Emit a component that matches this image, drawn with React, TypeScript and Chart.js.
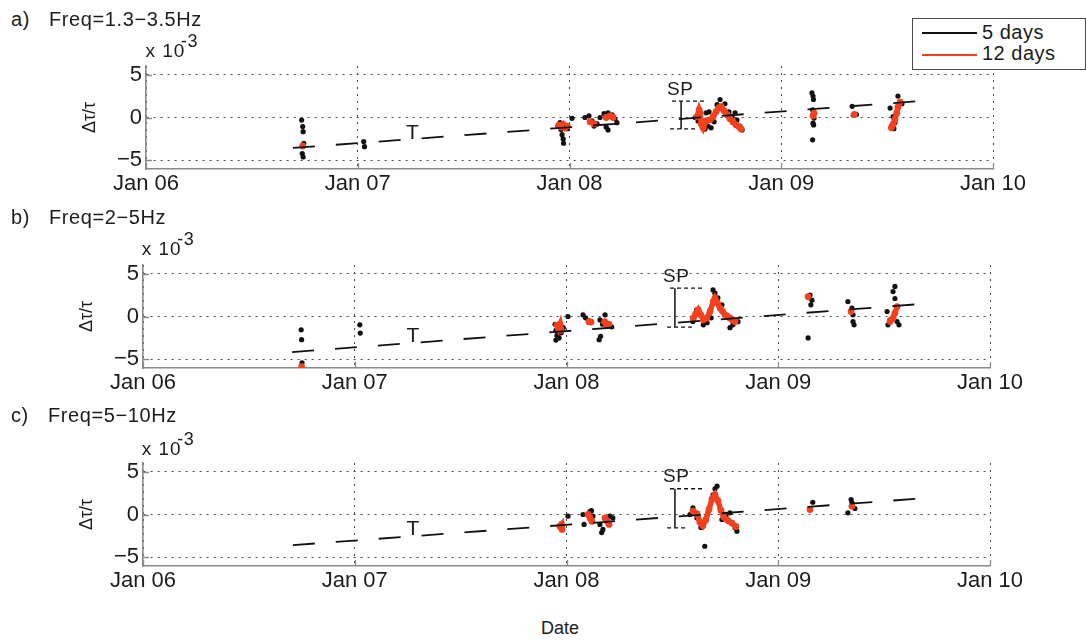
import React, { useEffect, useRef } from 'react';
import { Chart, registerables } from 'chart.js';

Chart.register(...registerables);

// ---------------- data (x in decimal years, y in units of 1e-3) ----------------
const X_TICKS = [2006, 2007, 2008, 2009, 2010];
const X_LABELS = ['Jan 06', 'Jan 07', 'Jan 08', 'Jan 09', 'Jan 10'];
const Y_TICKS = [-5, 0, 5];
const Y_LABELS = ['−5', '0', '5'];

const LEGEND_LABELS = ['5 days', '12 days'];
const PANEL_LETTERS = ['a)', 'b)', 'c)'];
const PANEL_TITLES = ['Freq=1.3−3.5Hz', 'Freq=2−5Hz', 'Freq=5−10Hz'];

// panel a
const A_BLACK_X = [
  2006.735, 2006.74, 2006.742, 2006.745, 2006.74, 2006.738, 2006.742, 2007.028, 2007.032,
  2007.945, 2007.955, 2007.96, 2007.965, 2007.97, 2007.972, 2007.98, 2007.99, 2008.012,
  2008.073, 2008.092, 2008.106, 2008.116, 2008.13, 2008.144, 2008.163, 2008.182, 2008.201, 2008.215, 2008.224, 2008.173, 2008.182,
  2008.593, 2008.607, 2008.626, 2008.64, 2008.654, 2008.669, 2008.683, 2008.697, 2008.711, 2008.72, 2008.734, 2008.753, 2008.768, 2008.782, 2008.791, 2008.805, 2008.815, 2008.645, 2008.659,
  2009.145, 2009.15, 2009.152, 2009.148, 2009.15, 2009.155, 2009.15, 2009.153, 2009.148,
  2009.335, 2009.34, 2009.355,
  2009.514, 2009.528, 2009.537, 2009.551, 2009.561, 2009.57, 2009.52, 2009.532,
];
const A_BLACK_Y = [
  -0.3, -1.05, -1.65, -3.0, -3.4, -4.2, -4.6, -2.8, -3.4,
  -1.0, -0.6, -1.4, -2.0, -2.5, -3.0, -0.9, -1.3, -0.1,
  0.0, 0.2, -0.4, -1.0, -0.75, 0.0, 0.45, 0.55, 0.3, -0.15, -0.6, -1.1, -1.45,
  0.0, -0.4, -1.0, -1.35, -1.0, -1.2, -0.5, 1.5, 2.1, 1.0, 1.6, 0.65, 0.1, 0.55, -0.3, -1.0, -1.45, 0.55, 0.65,
  2.87, 2.5, 2.1, 0.9, 0.3, -0.07, -0.66, -0.86, -2.6,
  1.3, 0.3, 0.35,
  1.1, 0.1, -0.6, 2.5, 1.7, 1.6, -1.0, -1.3,
];
const A_RED_X = [
  2006.74, null,
  2007.95, 2007.96, 2007.97, 2007.98, 2007.99, null,
  2008.097, 2008.116, null,
  2008.173, 2008.192, 2008.206, null,
  2008.602, 2008.612, 2008.617, 2008.622, 2008.631, 2008.645, 2008.664, 2008.678, 2008.692, 2008.706, 2008.716, 2008.73, 2008.744, 2008.758, 2008.772, 2008.787, 2008.801, 2008.81, null,
  2009.15, 2009.155, null,
  2009.345, null,
  2009.52, 2009.528, 2009.537, 2009.545, 2009.551, 2009.561,
];
const A_RED_Y = [
  -3.3, null,
  -0.9, -1.1, -0.8, -1.2, -1.0, null,
  -0.5, -0.75, null,
  0.0, 0.2, 0.0, null,
  0.08, 0.9, 0.55, -0.74, -1.21, -0.39, -0.27, 0.08, 0.67, 1.14, 1.26, 0.79, 0.32, -0.15, -0.51, -0.86, -1.09, -1.33, null,
  0.2, 0.5, null,
  0.35, null,
  -1.2, -0.8, -0.2, 0.5, 1.2, 1.8,
];
const A_TREND_X = [2006.694, 2009.7];
const A_TREND_Y = [-3.55, 2.0];
// SP bracket: [vertical x, top start, top end, bottom start, bottom end]
const A_SP_X = [2008.527, 2008.484, 2008.65, 2008.475, 2008.593];
const A_SP_Y = [1.9, -1.33];

// panel b
const B_BLACK_X = [
  2006.747, 2006.749, 2006.751, 2007.024, 2007.026,
  2007.946, 2007.95, 2007.955, 2007.95, 2007.965, 2007.975, 2007.985, 2008.007,
  2008.078, 2008.09, 2008.106, 2008.158, 2008.182, 2008.161, 2008.154, 2008.196, 2008.213, 2008.17,
  2008.597, 2008.615, 2008.63, 2008.646, 2008.664, 2008.683, 2008.692, 2008.701, 2008.715, 2008.734, 2008.758, 2008.772, 2008.786, 2008.81,
  2009.141, 2009.15, 2009.159, 2009.154, 2009.329, 2009.348, 2009.353, 2009.353, 2009.358,
  2009.551, 2009.542, 2009.551, 2009.514, 2009.528, 2009.518, 2009.561, 2009.57,
];
const B_BLACK_Y = [
  -1.55, -2.7, -5.4, -0.97, -1.93,
  -0.9, -1.6, -2.2, -2.75, -2.5, -1.9, -1.3, 0.0,
  0.2, -0.15, -0.5, -0.4, 0.2, -2.3, -2.7, -1.0, -1.2, -0.9,
  -0.58, 0.78, 0.2, -0.97, -0.73, -0.15, 3.1, 2.72, 2.17, 1.36, 0.0, -1.3, -0.97, -0.6,
  -2.5, 2.5, 1.9, 1.36, 1.74, 0.98, 0.2, -0.58, -0.97,
  3.5, 2.9, 2.1, 0.58, -0.38, -0.97, -0.58, -0.97,
];
const B_RED_X = [
  2006.749, null,
  2007.955, 2007.962, 2007.97, 2007.975, null,
  2008.106, 2008.116, null,
  2008.18, 2008.19, 2008.2, null,
  2008.599, 2008.61, 2008.622, 2008.634, 2008.646, 2008.662, 2008.678, 2008.693, 2008.701, 2008.712, 2008.725, 2008.737, 2008.749, 2008.76, 2008.772, 2008.784, 2008.796, null,
  2009.141, null,
  2009.344, null,
  2009.528, 2009.542, 2009.551, 2009.561,
];
const B_RED_Y = [
  -5.85, null,
  -1.0, -1.4, -0.9, -1.6, null,
  -0.6, -0.65, null,
  -0.6, -1.0, -0.9, null,
  -0.19, 0.3, 0.78, 0.2, -0.38, -0.19, 0.58, 1.74, 2.14, 1.6, 0.98, 0.6, 0.2, 0.0, -0.19, -0.4, -0.58, null,
  2.3, null,
  0.58, null,
  -0.58, -0.2, 0.4, 1.16,
];
const B_TREND_X = [2006.704, 2009.713];
const B_TREND_Y = [-4.15, 1.53];
const B_SP_X = [2008.512, 2008.489, 2008.645, 2008.475, 2008.593];
const B_SP_Y = [3.3, -1.23];

// panel c
const C_BLACK_X = [
  2008.007,
  2008.078, 2008.111, 2008.118, 2008.125, 2008.083,
  2008.158, 2008.166, 2008.172, 2008.205, 2008.219,
  2008.583, 2008.597, 2008.616, 2008.635, 2008.658, 2008.653, 2008.692, 2008.701, 2008.711, 2008.734, 2008.753, 2008.772, 2008.796, 2008.805,
  2009.163, 2009.344, 2009.348, 2009.329, 2009.362,
];
const C_BLACK_Y = [
  -0.2,
  0.0, 0.38, 0.45, -0.2, -1.16,
  -1.16, -2.1, -1.74, -0.2, -0.4,
  0.0, 0.78, -0.4, -1.5, -0.58, -3.7, 2.3, 3.0, 3.3, -0.58, -0.2, 0.2, -1.55, -1.94,
  1.43, 1.74, 1.4, 0.2, 0.7,
];
const C_RED_X = [
  2007.969, 2007.977, 2007.979, null,
  2008.102, 2008.111, 2008.12, null,
  2008.182, 2008.192, 2008.201, null,
  2008.597, 2008.616, 2008.63, 2008.644, 2008.658, 2008.673, 2008.687, 2008.701, 2008.715, 2008.729, 2008.743, 2008.762, 2008.781, 2008.8, null,
  2009.15, null,
  2009.348,
];
const C_RED_Y = [
  -1.4, -1.16, -1.74, null,
  0.0, -0.4, -0.8, null,
  -0.4, -0.8, -1.16, null,
  0.4, 0.1, -0.9, -1.3, -0.6, 0.6, 1.8, 2.3, 1.6, 0.5, -0.3, -0.7, -1.0, -1.4, null,
  0.58, null,
  0.97,
];
const C_TREND_X = [2006.708, 2009.717];
const C_TREND_Y = [-3.57, 1.95];
const C_SP_X = [2008.512, 2008.489, 2008.64, 2008.475, 2008.574];
const C_SP_Y = [3.0, -1.55];

const PANELS = [
  { blackX: A_BLACK_X, blackY: A_BLACK_Y, redX: A_RED_X, redY: A_RED_Y, trendX: A_TREND_X, trendY: A_TREND_Y, spX: A_SP_X, spY: A_SP_Y },
  { blackX: B_BLACK_X, blackY: B_BLACK_Y, redX: B_RED_X, redY: B_RED_Y, trendX: B_TREND_X, trendY: B_TREND_Y, spX: B_SP_X, spY: B_SP_Y },
  { blackX: C_BLACK_X, blackY: C_BLACK_Y, redX: C_RED_X, redY: C_RED_Y, trendX: C_TREND_X, trendY: C_TREND_Y, spX: C_SP_X, spY: C_SP_Y },
];

// ---------------- layout / style ----------------
const W = 1086;
const H = 644;
const FONT = '"Liberation Sans", Arial, Helvetica, sans-serif';
const TEXT = '#1c1c1c';
const RED = '#f4401f';
const AXIS_COLOR = '#8a8a8a';
const GRID_COLOR = '#4a4a4a';
const Y_AXIS_W = 70;
const X_AXIS_H = 30;
const PAD_TOP = 20;
const PAD_BOTTOM = 10;

const BOXES = [
  { left: 146, right: 993, top: 66, bottom: 169 },
  { left: 143, right: 990, top: 265, bottom: 368 },
  { left: 143, right: 990, top: 463, bottom: 566 },
];

type P = { x: number; y: number };

function pts(xs: number[], ys: number[]): P[] {
  return xs.map((x, i) => ({ x, y: ys[i] }));
}

function segments(xs: (number | null)[], ys: (number | null)[]): P[][] {
  const out: P[][] = [];
  let cur: P[] = [];
  xs.forEach((x, i) => {
    const y = ys[i];
    if (x === null || y === null) {
      if (cur.length) out.push(cur);
      cur = [];
    } else cur.push({ x, y });
  });
  if (cur.length) out.push(cur);
  return out;
}

const inwardTicks = {
  id: 'inwardTicks',
  afterDraw(chart: any) {
    const { ctx, chartArea, scales } = chart;
    ctx.save();
    ctx.strokeStyle = AXIS_COLOR;
    ctx.lineWidth = 1.3;
    ctx.beginPath();
    scales.x.ticks.forEach((t: any) => {
      const px = Math.round(scales.x.getPixelForValue(t.value)) + 0.5;
      ctx.moveTo(px, chartArea.bottom);
      ctx.lineTo(px, chartArea.bottom - 6);
    });
    scales.y.ticks.forEach((t: any) => {
      const py = Math.round(scales.y.getPixelForValue(t.value)) + 0.5;
      ctx.moveTo(chartArea.left, py);
      ctx.lineTo(chartArea.left + 6, py);
    });
    ctx.stroke();
    ctx.restore();
  },
};

function PanelChart({ index }: { index: number }) {
  const ref = useRef<HTMLCanvasElement>(null);
  const box = BOXES[index];
  const ch = box.bottom - box.top + PAD_TOP + PAD_BOTTOM + X_AXIS_H;

  useEffect(() => {
    const p = PANELS[index];
    const [vx, ts, te, bs, be] = p.spX;
    const [spTop, spBot] = p.spY;
    const lineDs = (data: P[], extra: any) => ({
      data,
      showLine: true,
      pointRadius: 0,
      borderColor: '#111',
      backgroundColor: '#111',
      fill: false,
      tension: 0,
      ...extra,
    });
    const redSegs = segments(p.redX, p.redY).map((seg, i) => ({
      label: i === 0 ? LEGEND_LABELS[1] : '',
      data: seg,
      showLine: true,
      borderColor: RED,
      backgroundColor: RED,
      borderWidth: 5.5,
      pointRadius: 3.4,
      pointBorderWidth: 0,
      tension: 0,
      order: 2,
    }));
    const datasets: any[] = [
      {
        label: LEGEND_LABELS[0],
        data: pts(p.blackX, p.blackY),
        showLine: false,
        backgroundColor: '#111',
        borderColor: '#111',
        pointRadius: 2.6,
        pointBorderWidth: 0,
        order: 3,
      },
      ...redSegs,
      lineDs(pts(p.trendX, p.trendY), { borderWidth: 1.8, borderDash: [22, 21], order: 0 }),
      lineDs([{ x: vx, y: spTop }, { x: vx, y: spBot }], { borderWidth: 1.5, order: 0 }),
      lineDs([{ x: ts, y: spTop }, { x: te, y: spTop }], { borderWidth: 1.3, borderDash: [4, 3], order: 0 }),
      lineDs([{ x: bs, y: spBot }, { x: be, y: spBot }], { borderWidth: 1.3, borderDash: [4, 3], order: 0 }),
    ];

    const chart = new Chart(ref.current as HTMLCanvasElement, {
      type: 'scatter',
      data: { datasets },
      plugins: [inwardTicks],
      options: {
        responsive: false,
        animation: false,
        events: [],
        layout: {
          padding: { left: box.left - Y_AXIS_W, right: W - box.right, top: PAD_TOP, bottom: PAD_BOTTOM },
        },
        plugins: { legend: { display: false }, tooltip: { enabled: false }, title: { display: false } },
        scales: {
          x: {
            type: 'linear',
            min: X_TICKS[0],
            max: X_TICKS[X_TICKS.length - 1],
            afterBuildTicks: (s: any) => {
              s.ticks = X_TICKS.map((v) => ({ value: v }));
            },
            afterFit: (s: any) => {
              s.height = X_AXIS_H;
            },
            ticks: {
              callback: (_v: any, i: number) => X_LABELS[i],
              font: { family: FONT, size: 22 },
              color: TEXT,
              padding: 2,
              maxRotation: 0,
              autoSkip: false,
            },
            grid: { color: GRID_COLOR, lineWidth: 1, drawTicks: false },
            border: { display: true, color: AXIS_COLOR, width: 1.6, dash: [2, 5] },
          },
          y: {
            type: 'linear',
            min: -6,
            max: 6,
            afterBuildTicks: (s: any) => {
              s.ticks = Y_TICKS.map((v) => ({ value: v }));
            },
            afterFit: (s: any) => {
              s.width = Y_AXIS_W;
            },
            ticks: {
              callback: (_v: any, i: number) => Y_LABELS[i],
              font: { family: FONT, size: 22 },
              color: TEXT,
              padding: 4,
            },
            title: {
              display: true,
              text: 'Δτ/τ',
              font: { family: FONT, size: 18 },
              color: TEXT,
              padding: { top: 3, bottom: 0 },
            },
            grid: { color: GRID_COLOR, lineWidth: 1, drawTicks: false },
            border: { display: true, color: AXIS_COLOR, width: 1.6, dash: [2, 5] },
          },
        },
      } as any,
    });
    return () => chart.destroy();
  }, [index]);

  return (
    <canvas
      ref={ref}
      width={W}
      height={ch}
      style={{ position: 'absolute', left: 0, top: box.top - PAD_TOP, width: W, height: ch }}
    />
  );
}

function Label({
  x,
  baseline,
  size,
  text,
  align = 'left',
  ls = 0,
}: {
  x: number;
  baseline: number;
  size: number;
  text: string;
  align?: 'left' | 'center';
  ls?: number;
}) {
  const top = baseline - 0.8465 * size;
  const centered = align === 'center';
  return (
    <div
      style={{
        position: 'absolute',
        left: centered ? x - 100 + ls / 2 : x,
        width: centered ? 200 : undefined,
        textAlign: centered ? 'center' : 'left',
        top,
        fontSize: size,
        lineHeight: `${size}px`,
        letterSpacing: ls,
        whiteSpace: 'nowrap',
        fontFamily: FONT,
        color: TEXT,
      }}
    >
      {text}
    </div>
  );
}

const TITLE_POS = [
  { letterX: 11, textX: 49, baseline: 25.5 },
  { letterX: 11, textX: 49, baseline: 223.5 },
  { letterX: 11, textX: 48, baseline: 422 },
];
const EXP_POS = [
  { x: 145.5, baseline: 57 },
  { x: 141.7, baseline: 255 },
  { x: 141.7, baseline: 455 },
];
const SP_POS = [
  { x: 680, baseline: 95 },
  { x: 676, baseline: 282.3 },
  { x: 676, baseline: 482.3 },
];
const T_POS = [
  { x: 412.5, baseline: 138.3 },
  { x: 413, baseline: 341.7 },
  { x: 413, baseline: 535 },
];

export default function App() {
  return (
    <div
      style={{
        position: 'fixed',
        left: 0,
        top: 0,
        width: W,
        height: H,
        background: '#fff',
        overflow: 'hidden',
        fontFamily: FONT,
      }}
    >
      {[0, 1, 2].map((i) => (
        <PanelChart key={i} index={i} />
      ))}
      {[0, 1, 2].map((i) => (
        <React.Fragment key={`t${i}`}>
          <Label x={TITLE_POS[i].letterX} baseline={TITLE_POS[i].baseline} size={20} text={PANEL_LETTERS[i]} ls={0.6} />
          <Label x={TITLE_POS[i].textX} baseline={TITLE_POS[i].baseline} size={20} text={PANEL_TITLES[i]} ls={0.6} />
          <Label x={EXP_POS[i].x} baseline={EXP_POS[i].baseline} size={19} text="x 10" ls={1} />
          <Label x={EXP_POS[i].x + 35.5} baseline={EXP_POS[i].baseline - 9.5} size={18} text="-3" ls={0.5} />
          <Label x={SP_POS[i].x} baseline={SP_POS[i].baseline} size={19} text="SP" align="center" ls={0.5} />
          <Label x={T_POS[i].x} baseline={T_POS[i].baseline} size={21} text="T" align="center" />
        </React.Fragment>
      ))}
      <Label x={560} baseline={634} size={18} text="Date" align="center" />
      <div
        style={{
          position: 'absolute',
          left: 912,
          top: 18,
          width: 174,
          height: 52,
          border: '1px solid #4a4a4a',
          background: '#fff',
          boxSizing: 'border-box',
        }}
      />
      <div style={{ position: 'absolute', left: 922, top: 32, width: 55, height: 2, background: '#111' }} />
      <div style={{ position: 'absolute', left: 922, top: 54, width: 55, height: 2, background: RED }} />
      <Label x={982} baseline={38.5} size={20} text={LEGEND_LABELS[0]} ls={0.5} />
      <Label x={982} baseline={60} size={20} text={LEGEND_LABELS[1]} ls={0.5} />
    </div>
  );
}
